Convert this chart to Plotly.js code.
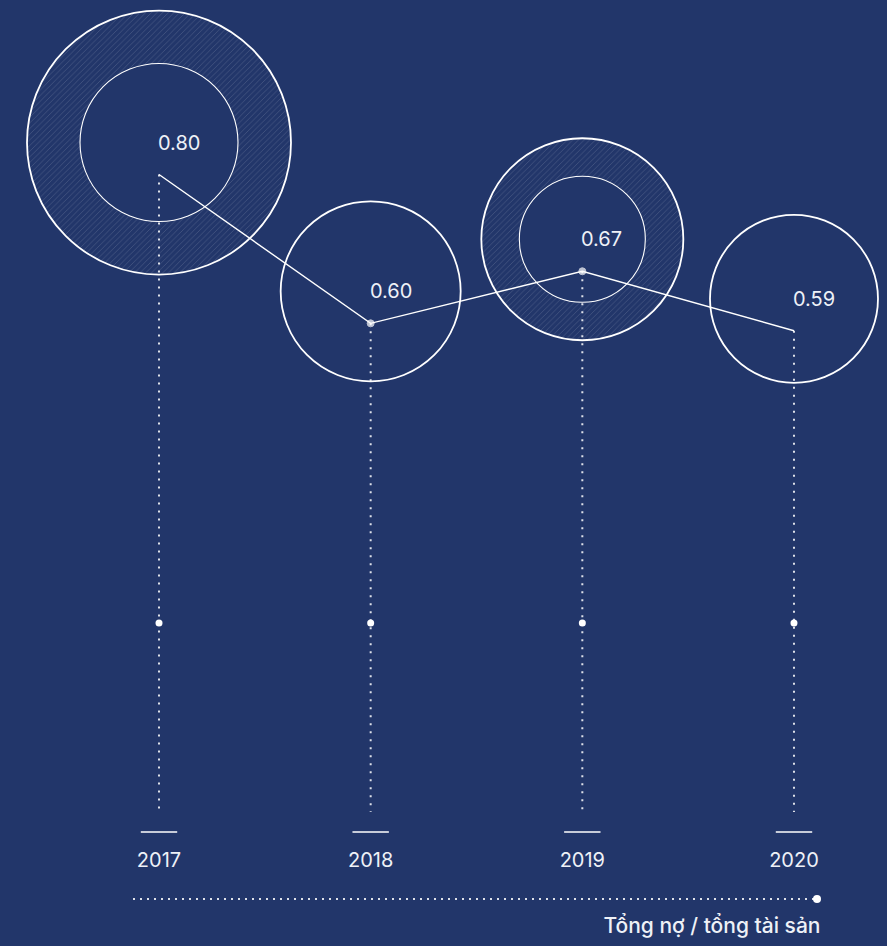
<!DOCTYPE html>
<html>
<head>
<meta charset="utf-8">
<script src="https://cdn.plot.ly/plotly-3.0.1.min.js"></script>
<style>
html,body{margin:0;padding:0;background:#22366a;}
#chart{width:887px;height:946px;}
</style>
</head>
<body>
<div id="chart"></div>
<script>
// ---- data ----
const years = ['2017', '2018', '2019', '2020'];
const debtRatio = [0.80, 0.60, 0.67, 0.59];
const bubbleOuter = [132, 90, 101, 84];   // outer bubble radius
const bubbleInner = [79, null, 63, null]; // inner bubble radius (hatched ring between)
const titleText = 'Tổng nợ / tổng tài sản';

// ---- layout geometry ----
const W = 887, H = 946;
const xr = [-0.7512, 3.4394];
const yr = [-0.2369, 1.0346];
const pxX = W / (xr[1] - xr[0]);
const pxY = H / (yr[1] - yr[0]);
const vAt = px => yr[1] - px / pxY;       // page pixel row -> y value
const circleLift = 32 / pxY;              // bubbles sit a little above the point

const xi = years.map((_, i) => i);
const white = '#ffffff';
const font = 'Inter, "Noto Sans", sans-serif';

const traces = [];

// hatched rings
xi.forEach((x, i) => {
  if (bubbleInner[i] == null) return;
  const cy = debtRatio[i] + circleLift;
  const px = [], py = [];
  const N = 160;
  for (let k = 0; k <= N; k++) {
    const a = 2 * Math.PI * k / N;
    px.push(x + bubbleOuter[i] * Math.cos(a) / pxX);
    py.push(cy + bubbleOuter[i] * Math.sin(a) / pxY);
  }
  for (let k = N; k >= 0; k--) {
    const a = 2 * Math.PI * k / N;
    px.push(x + bubbleInner[i] * Math.cos(a) / pxX);
    py.push(cy + bubbleInner[i] * Math.sin(a) / pxY);
  }
  traces.push({
    type: 'scatter', mode: 'lines', x: px, y: py,
    fill: 'toself', fillcolor: 'rgba(0,0,0,0)',
    fillpattern: {shape: '/', size: 4, solidity: 0.1, fgcolor: 'rgba(255,255,255,0.32)', bgcolor: 'rgba(0,0,0,0)'},
    line: {width: 0, color: 'rgba(0,0,0,0)'},
    hoverinfo: 'skip', showlegend: false
  });
});

// outer bubbles
traces.push({
  type: 'scatter', mode: 'markers', x: xi,
  y: debtRatio.map(v => v + circleLift),
  marker: {symbol: 'circle-open', size: bubbleOuter.map(r => 2 * r), color: white, opacity: 1, line: {width: 1.8, color: white}},
  hoverinfo: 'skip', showlegend: false
});
// inner bubbles
const innerIdx = xi.filter(i => bubbleInner[i] != null);
traces.push({
  type: 'scatter', mode: 'markers', x: innerIdx,
  y: innerIdx.map(i => debtRatio[i] + circleLift),
  marker: {symbol: 'circle-open', size: innerIdx.map(i => 2 * bubbleInner[i]), color: white, opacity: 1, line: {width: 1.1, color: white}},
  hoverinfo: 'skip', showlegend: false
});

// vertical dotted drop lines
const dropX = [], dropY = [];
const dropBottom = vAt(812);
xi.forEach((x, i) => { dropX.push(x, x, null); dropY.push(debtRatio[i], dropBottom, null); });
traces.push({
  type: 'scatter', mode: 'lines', x: dropX, y: dropY,
  line: {color: 'rgba(255,255,255,0.85)', width: 2, dash: '2px,6px'},
  hoverinfo: 'skip', showlegend: false
});

// mid dots on drop lines
traces.push({
  type: 'scatter', mode: 'markers', x: xi, y: xi.map(() => vAt(623)),
  marker: {symbol: 'circle', size: 7, color: white},
  hoverinfo: 'skip', showlegend: false
});

// small tick dashes above year labels
traces.push({
  type: 'scatter', mode: 'markers', x: xi, y: xi.map(() => vAt(832)),
  marker: {symbol: 'line-ew', size: 26, color: white, line: {width: 1.3, color: white}},
  hoverinfo: 'skip', showlegend: false
});

// ratio line
traces.push({
  type: 'scatter', mode: 'lines+markers', x: xi, y: debtRatio,
  line: {color: white, width: 1.4},
  marker: {size: xi.map(i => (i === 0 || i === xi.length - 1) ? 0 : 7), color: white},
  hovertemplate: '%{y:.2f}<extra></extra>', showlegend: false
});

const annotations = xi.map((x, i) => ({
  x: x, y: debtRatio[i] + circleLift, xref: 'x', yref: 'y',
  text: debtRatio[i].toFixed(2), showarrow: false,
  xanchor: 'left', yanchor: 'middle', xshift: -3,
  font: {family: font, size: 20, color: '#eef1f7'}
}));

const layout = {
  width: W, height: H,
  margin: {l: 0, r: 0, t: 0, b: 0, pad: 0},
  paper_bgcolor: '#22366a', plot_bgcolor: '#22366a',
  showlegend: false,
  title: {
    text: titleText, xref: 'paper', yref: 'container', x: 0.925, xanchor: 'right',
    y: 0.021, yanchor: 'middle',
    font: {family: font, size: 21, color: '#eef1f7', weight: 500}
  },
  xaxis: {
    range: xr, fixedrange: true, showgrid: false, zeroline: false, showline: false,
    tickmode: 'array', tickvals: xi, ticktext: years, ticks: '',
    anchor: 'free', position: 0.106,
    tickfont: {family: font, size: 20, color: '#eef1f7'}
  },
  yaxis: {range: yr, visible: false, fixedrange: true},
  annotations: annotations,
  shapes: [
    {type: 'line', xref: 'paper', yref: 'paper', x0: 133 / W, x1: 817 / W, y0: (H - 899) / H, y1: (H - 899) / H,
     line: {color: 'rgba(255,255,255,0.85)', width: 2, dash: '2px,5px'}},
    {type: 'circle', xref: 'paper', yref: 'paper', xsizemode: 'pixel', ysizemode: 'pixel',
     xanchor: 817 / W, yanchor: (H - 899) / H, x0: -4, x1: 4, y0: -4, y1: 4,
     fillcolor: white, line: {width: 0}}
  ]
};

Plotly.newPlot('chart', traces, layout, {displayModeBar: false, staticPlot: true});
</script>
</body>
</html>
